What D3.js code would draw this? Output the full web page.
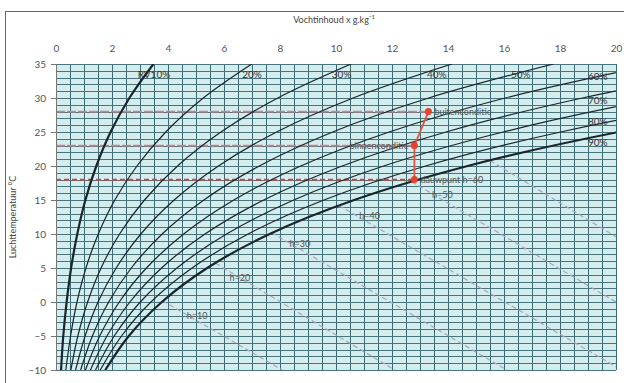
<!DOCTYPE html>
<html>
<head>
<meta charset="utf-8">
<script src="https://cdn.jsdelivr.net/npm/d3@7"></script>
<style>
  body { margin: 0; background: #fff; }
  text { font-family: Lato, "Open Sans", sans-serif; fill: #555; }
</style>
</head>
<body>
<div id="chart"></div>
<script>
// temperature steps (°C) at which the humidity curves are read
const temps = [-10, -5, 0, 5, 10, 15, 20, 25, 30, 35];

// moisture content x (g/kg) of each relative humidity curve at those temperatures
const rh10 = [0.18, 0.26, 0.38, 0.54, 0.76, 1.05, 1.44, 1.95, 2.62, 3.48];
const rh20 = [0.35, 0.52, 0.75, 1.07, 1.51, 2.10, 2.89, 3.92, 5.26, 6.99];
const rh30 = [0.53, 0.78, 1.13, 1.61, 2.27, 3.16, 4.34, 5.89, 7.92, 10.54];
const rh40 = [0.70, 1.04, 1.50, 2.15, 3.03, 4.22, 5.80, 7.88, 10.61, 14.14];
const rh50 = [0.88, 1.30, 1.88, 2.69, 3.79, 5.28, 7.26, 9.88, 13.31, 17.77];
const rh60 = [1.05, 1.56, 2.26, 3.23, 4.56, 6.35, 8.74, 11.90, 16.04, 21.45];
const rh70 = [1.23, 1.82, 2.64, 3.77, 5.32, 7.42, 10.22, 13.93, 18.80, 25.16];
const rh80 = [1.41, 2.08, 3.01, 4.32, 6.09, 8.49, 11.70, 15.97, 21.58, 28.93];
const rh90 = [1.58, 2.34, 3.39, 4.86, 6.86, 9.57, 13.20, 18.02, 24.38, 32.73];
const rh100 = [1.76, 2.60, 3.78, 5.40, 7.63, 10.65, 14.70, 20.09, 27.21, 36.60];
const rhCurves = [rh10, rh20, rh30, rh40, rh50, rh60, rh70, rh80, rh90, rh100];

// curve labels: text, x (g/kg), T (°C)
const rhLabels = [
  ['RV10%', 3.5, 33.4], ['20%', 7.0, 33.4], ['30%', 10.2, 33.4], ['40%', 13.6, 33.4],
  ['50%', 16.6, 33.4], ['60%', 19.35, 33.2], ['70%', 19.35, 29.7], ['80%', 19.35, 26.5],
  ['90%', 19.35, 23.4]
];

// enthalpy lines (kJ/kg): start on the saturation curve, end at the plot edge [x, T]
const hValues = [10, 20, 30, 40, 50, 60];
const hStart = [[3.8, 0.2], [5.7, 5.7], [7.7, 10.2], [10.1, 14.2], [12.7, 17.7], [15.5, 20.8]];
const hEnd = [[8.08, -10], [12.1, -10], [16.1, -10], [20.2, -10], [20, 0], [20, 9.6]];
const hLabels = [[5.04, -2.1], [6.57, 3.6], [8.71, 8.5], [11.2, 12.6], [13.8, 15.8]];

// air conditions
const condNames = ['buitenconditie', 'binnenconditie', 'dauwpunt h=60'];
const condX = [13.3, 12.8, 12.8];
const condT = [28, 23, 18];

const xTicks = [0, 2, 4, 6, 8, 10, 12, 14, 16, 18, 20];
const yTicks = [-10, -5, 0, 5, 10, 15, 20, 25, 30, 35];

const W = 624, H = 383;
const margin = { top: 64, right: 8, bottom: 13, left: 56 };
const width = W - margin.left - margin.right;
const height = H - margin.top - margin.bottom;

const svg = d3.select('#chart').append('svg')
  .attr('width', W)
  .attr('height', H);

// outer frame
svg.append('rect')
  .attr('x', 5.5).attr('y', 11.5)
  .attr('width', 620).attr('height', 380)
  .attr('fill', 'none')
  .attr('stroke', '#666');

const g = svg.append('g')
  .attr('transform', `translate(${margin.left},${margin.top})`);

const x = d3.scaleLinear().domain([0, 20]).range([0, width]);
const y = d3.scaleLinear().domain([-10, 35]).range([height, 0]);

svg.append('defs').append('clipPath').attr('id', 'plot')
  .append('rect').attr('width', width).attr('height', height);

g.append('rect')
  .attr('width', width)
  .attr('height', height)
  .attr('fill', '#d3ecee');

// grid
g.append('g').selectAll('line')
  .data(d3.range(0, 20.01, 0.5))
  .enter().append('line')
  .attr('x1', d => Math.round(x(d)) + 0.5)
  .attr('x2', d => Math.round(x(d)) + 0.5)
  .attr('y1', 0).attr('y2', height)
  .attr('stroke', '#3d6a72');

g.append('g').selectAll('line')
  .data(d3.range(-10, 35.01, 1))
  .enter().append('line')
  .attr('y1', d => Math.round(y(d)) + 0.5)
  .attr('y2', d => Math.round(y(d)) + 0.5)
  .attr('x1', 0).attr('x2', width)
  .attr('stroke', '#4a747b');

const plot = g.append('g').attr('clip-path', 'url(#plot)');

// enthalpy lines
plot.selectAll('.h-line')
  .data(hValues)
  .enter().append('line')
  .attr('class', 'h-line')
  .attr('x1', (d, i) => x(hStart[i][0]))
  .attr('y1', (d, i) => y(hStart[i][1]))
  .attr('x2', (d, i) => x(hEnd[i][0]))
  .attr('y2', (d, i) => y(hEnd[i][1]))
  .attr('stroke', '#aaa5ba')
  .attr('stroke-width', 1.2)
  .attr('stroke-dasharray', '5,3');

// reference lines of the conditions
plot.selectAll('.cond-line')
  .data(condT)
  .enter().append('line')
  .attr('class', 'cond-line')
  .attr('x1', 0)
  .attr('x2', (d, i) => x(condX[i]))
  .attr('y1', d => y(d))
  .attr('y2', d => y(d))
  .attr('stroke', (d, i) => i === 2 ? '#d2463c' : '#d0808c')
  .attr('stroke-width', 1.6)
  .attr('stroke-dasharray', (d, i) => i === 2 ? '5,3' : '9,2');

// relative humidity curves
const line = d3.line()
  .x(d => x(d[0]))
  .y(d => y(d[1]))
  .curve(d3.curveCatmullRom.alpha(0.5));

plot.selectAll('.rh')
  .data(rhCurves)
  .enter().append('path')
  .attr('class', 'rh')
  .attr('d', c => line(c.map((v, i) => [v, temps[i]])))
  .attr('fill', 'none')
  .attr('stroke', '#18262b')
  .attr('stroke-width', (d, i) => (i === 0 || i === 9) ? 2.2 : 1.2);

// condition path and markers
plot.append('path')
  .attr('d', d3.line().x((d, i) => x(condX[i])).y(d => y(d))(condT))
  .attr('fill', 'none')
  .attr('stroke', '#e4553f')
  .attr('stroke-width', 1.8);

plot.selectAll('.cond')
  .data(condT)
  .enter().append('circle')
  .attr('cx', (d, i) => x(condX[i]))
  .attr('cy', d => y(d))
  .attr('r', 3.5)
  .attr('fill', '#e8402a');

// labels
g.selectAll('.rh-label')
  .data(rhLabels)
  .enter().append('text')
  .attr('x', d => x(d[1]))
  .attr('y', d => y(d[2]))
  .attr('dy', '0.35em')
  .attr('text-anchor', 'middle')
  .style('font-size', '10px')
  .style('fill', '#333')
  .text(d => d[0]);

g.selectAll('.h-label')
  .data(hLabels)
  .enter().append('text')
  .attr('x', d => x(d[0]))
  .attr('y', d => y(d[1]))
  .attr('dy', '0.35em')
  .attr('text-anchor', 'middle')
  .style('font-size', '9px')
  .style('fill', '#555')
  .text((d, i) => 'h=' + hValues[i]);

g.selectAll('.cond-label')
  .data(condNames)
  .enter().append('text')
  .attr('x', (d, i) => x(condX[i]) + (i === 1 ? -6 : 6))
  .attr('y', (d, i) => y(condT[i]))
  .attr('dy', '0.35em')
  .attr('text-anchor', (d, i) => i === 1 ? 'end' : 'start')
  .style('font-size', '9px')
  .style('fill', '#555')
  .text(d => d);

// axes
const xAxis = g.append('g')
  .call(d3.axisTop(x).tickValues(xTicks).tickSize(0).tickPadding(12));
xAxis.select('.domain').remove();
xAxis.selectAll('text').style('font-size', '10px').style('fill', '#555');

const yAxis = g.append('g')
  .call(d3.axisLeft(y).tickValues(yTicks).tickSize(5).tickPadding(5));
yAxis.select('.domain').attr('stroke', '#777');
yAxis.selectAll('line').attr('stroke', '#777');
yAxis.selectAll('text').style('font-size', '10px').style('fill', '#555');

svg.append('text')
  .attr('x', margin.left + x(10) - 2)
  .attr('y', 23)
  .attr('text-anchor', 'middle')
  .style('font-size', '9px')
  .style('fill', '#444')
  .text('Vochtinhoud x g.kg⁻¹');

svg.append('text')
  .attr('transform', `translate(16,${margin.top + y(12.5)}) rotate(-90)`)
  .attr('text-anchor', 'middle')
  .style('font-size', '9px')
  .style('fill', '#444')
  .text('Luchttemperatuur °C');
</script>
</body>
</html>
